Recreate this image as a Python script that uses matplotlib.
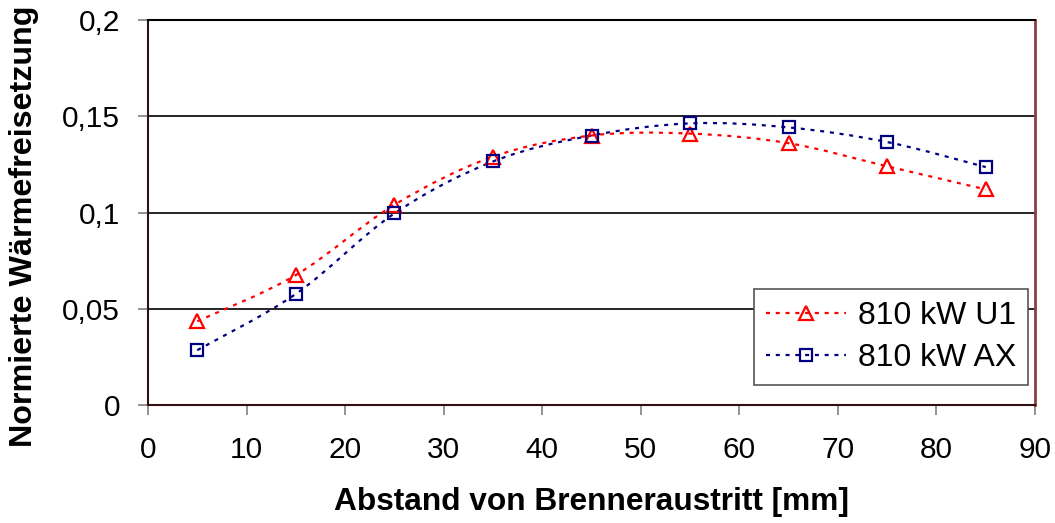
import matplotlib.pyplot as plt
import numpy as np
from matplotlib.path import Path
from matplotlib.patches import PathPatch
from matplotlib.lines import Line2D
from matplotlib.ticker import FuncFormatter

plt.rcParams['font.family'] = ['Liberation Sans', 'DejaVu Sans']

# data
abstand = [5, 15, 25, 35, 45, 55, 65, 75, 85]
u1 = [0.0435, 0.0675, 0.104, 0.129, 0.140, 0.141, 0.136, 0.124, 0.112]
ax_vals = [0.0285, 0.0577, 0.0995, 0.1265, 0.140, 0.1463, 0.1442, 0.1366, 0.1236]

x_ticks = [0, 10, 20, 30, 40, 50, 60, 70, 80, 90]
y_ticks = [0, 0.05, 0.1, 0.15, 0.2]


def smooth_path(x, y):
    # Excel-style smoothed line: cubic Bezier through the points
    p = np.column_stack([x, y]).astype(float)
    verts = [p[0]]
    codes = [Path.MOVETO]
    n = len(p)
    for i in range(n - 1):
        p0 = p[i - 1] if i > 0 else p[i]
        p3 = p[i + 2] if i + 2 < n else p[i + 1]
        c1 = p[i] + (p[i + 1] - p0) / 6
        c2 = p[i + 1] - (p3 - p[i]) / 6
        verts += [c1, c2, p[i + 1]]
        codes += [Path.CURVE4] * 3
    return Path(verts, codes)


fig = plt.figure(figsize=(10.55, 5.23), dpi=100)
ax = fig.add_axes([148 / 1055, 1 - 405 / 523, 887 / 1055, 385 / 523])

dash = (0, (1.8, 2.6))
series = [
    (u1, 'red', '^', '810 kW U1', 9.5),
    (ax_vals, '#000080', 's', '810 kW AX', 8.5),
]
handles = []
for vals, col, mk, lab, ms in series:
    patch = PathPatch(smooth_path(abstand, vals), fill=False, edgecolor=col,
                      linewidth=1.6, linestyle=dash, zorder=3)
    ax.add_patch(patch)
    ax.plot(abstand, vals, linestyle='none', marker=mk, markersize=ms,
            markerfacecolor='none', markeredgecolor=col, markeredgewidth=1.6,
            zorder=4)
    handles.append(Line2D([], [], color=col, linewidth=1.6,
                          linestyle=dash, marker=mk, markersize=ms,
                          markerfacecolor='none', markeredgecolor=col,
                          markeredgewidth=1.6, label=lab))

ax.set_xlim(0, 90)
ax.set_ylim(0, 0.2)
ax.set_xticks(x_ticks)
ax.set_yticks(y_ticks)
ax.yaxis.set_major_formatter(FuncFormatter(lambda v, p: ('%g' % v).replace('.', ',')))
ax.tick_params(axis='both', direction='out', length=7, width=1.2, color='#808080',
               labelsize=21.5)
ax.tick_params(axis='x', pad=15)
ax.tick_params(axis='y', pad=13)
ax.yaxis.grid(True, color='black', linewidth=1.2)
ax.set_axisbelow(True)

for s in ['left', 'bottom']:
    ax.spines[s].set_color('#301010')
    ax.spines[s].set_linewidth(1.5)
ax.spines['right'].set_color('#8b4040')
ax.spines['right'].set_linewidth(2)
ax.spines['top'].set_color('black')
ax.spines['top'].set_linewidth(1.5)

ax.set_xlabel('Abstand von Brenneraustritt [mm]', fontsize=22.8, fontweight='bold',
              labelpad=17)
ax.set_ylabel('Normierte Wärmefreisetzung', fontsize=23.2, fontweight='bold')
ax.yaxis.set_label_coords(-0.123, 0.465)

leg = ax.legend(handles=handles, loc='lower right', fontsize=23, frameon=True,
                fancybox=False, edgecolor='#555555', framealpha=1,
                handlelength=2.5, handletextpad=0.37, borderpad=0.38,
                labelspacing=0.38, borderaxespad=0,
                bbox_to_anchor=(0.992, 0.052))
leg.get_frame().set_linewidth(1.2)

fig.savefig('out.png', dpi=100)
